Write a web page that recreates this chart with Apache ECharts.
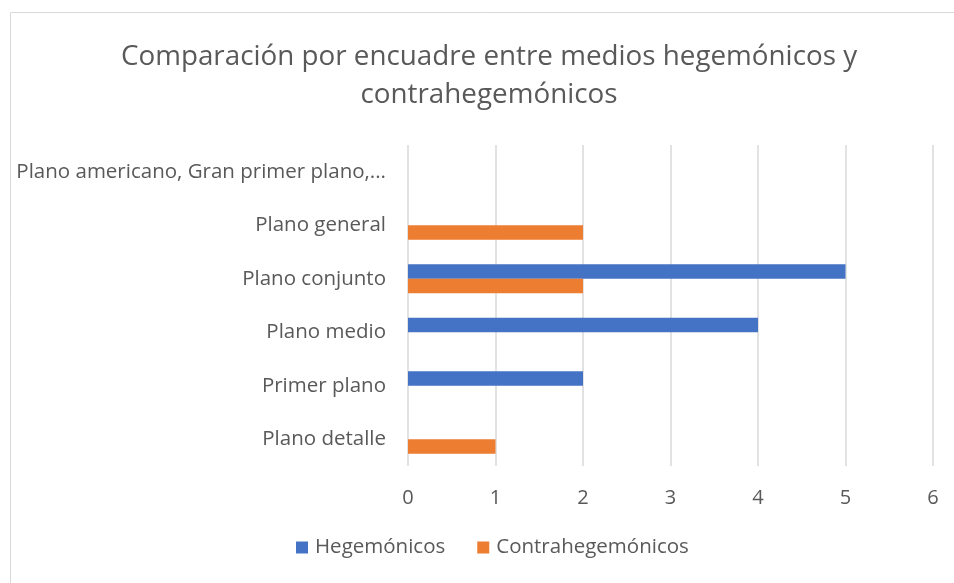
<!DOCTYPE html>
<html>
<head>
<meta charset="utf-8">
<script src="https://cdn.jsdelivr.net/npm/echarts@6/dist/echarts.min.js"></script>
<style>
  html, body { margin: 0; padding: 0; background: #fff; }
  #chart { width: 954px; height: 583px; }
</style>
</head>
<body>
<div id="chart"></div>
<script>
// categorias de abajo hacia arriba
var categorias = ['Plano detalle', 'Primer plano', 'Plano medio', 'Plano conjunto', 'Plano general', 'Plano americano, Gran primer plano,...'];
var hegemonicos = [0, 2, 4, 5, 0, 0];
var contrahegemonicos = [1, 0, 0, 2, 2, 0];
var nombresSeries = ['Hegemónicos', 'Contrahegemónicos'];

var chart = echarts.init(document.getElementById('chart'));
var fuente = 'Open Sans';
var option = {
  title: {
    text: 'Comparación por encuadre entre medios hegemónicos y\ncontrahegemónicos',
    left: 484,
    textAlign: 'center',
    top: 33,
    textStyle: { fontFamily: fuente, fontSize: 27.8, fontWeight: 'normal', color: '#595959', lineHeight: 38 }
  },
  graphic: [{
    type: 'rect',
    shape: { x: 10.5, y: 12.5, width: 960, height: 600 },
    style: { fill: 'none', stroke: '#d9d9d9', lineWidth: 1 },
    silent: true
  }],
  legend: {
    bottom: 20,
    left: 291,
    itemWidth: 12,
    itemHeight: 12,
    itemGap: 32,
    icon: 'rect',
    textStyle: { fontFamily: fuente, fontSize: 20.5, color: '#595959', padding: [0, 0, 0, 2] },
    data: nombresSeries
  },
  grid: { left: 408, right: 21, top: 145, bottom: 117 },
  xAxis: {
    type: 'value',
    min: 0, max: 6, interval: 1,
    axisLine: { show: false },
    axisTick: { show: false },
    axisLabel: { fontFamily: fuente, fontSize: 20, color: '#595959', margin: 22 },
    splitLine: { lineStyle: { color: '#d9d9d9', width: 1.5 } }
  },
  yAxis: {
    type: 'category',
    data: categorias,
    axisLine: { show: false },
    axisTick: { show: false },
    axisLabel: { fontFamily: fuente, fontSize: 20.5, color: '#595959', margin: 22 }
  },
  series: [
    { name: nombresSeries[0], type: 'bar', data: hegemonicos, itemStyle: { color: '#4472C4' }, barGap: '0%', barCategoryGap: '46%' },
    { name: nombresSeries[1], type: 'bar', data: contrahegemonicos, itemStyle: { color: '#ED7D31' }, barGap: '0%', barCategoryGap: '46%' }
  ]
};
chart.setOption(option);
</script>
</body>
</html>
